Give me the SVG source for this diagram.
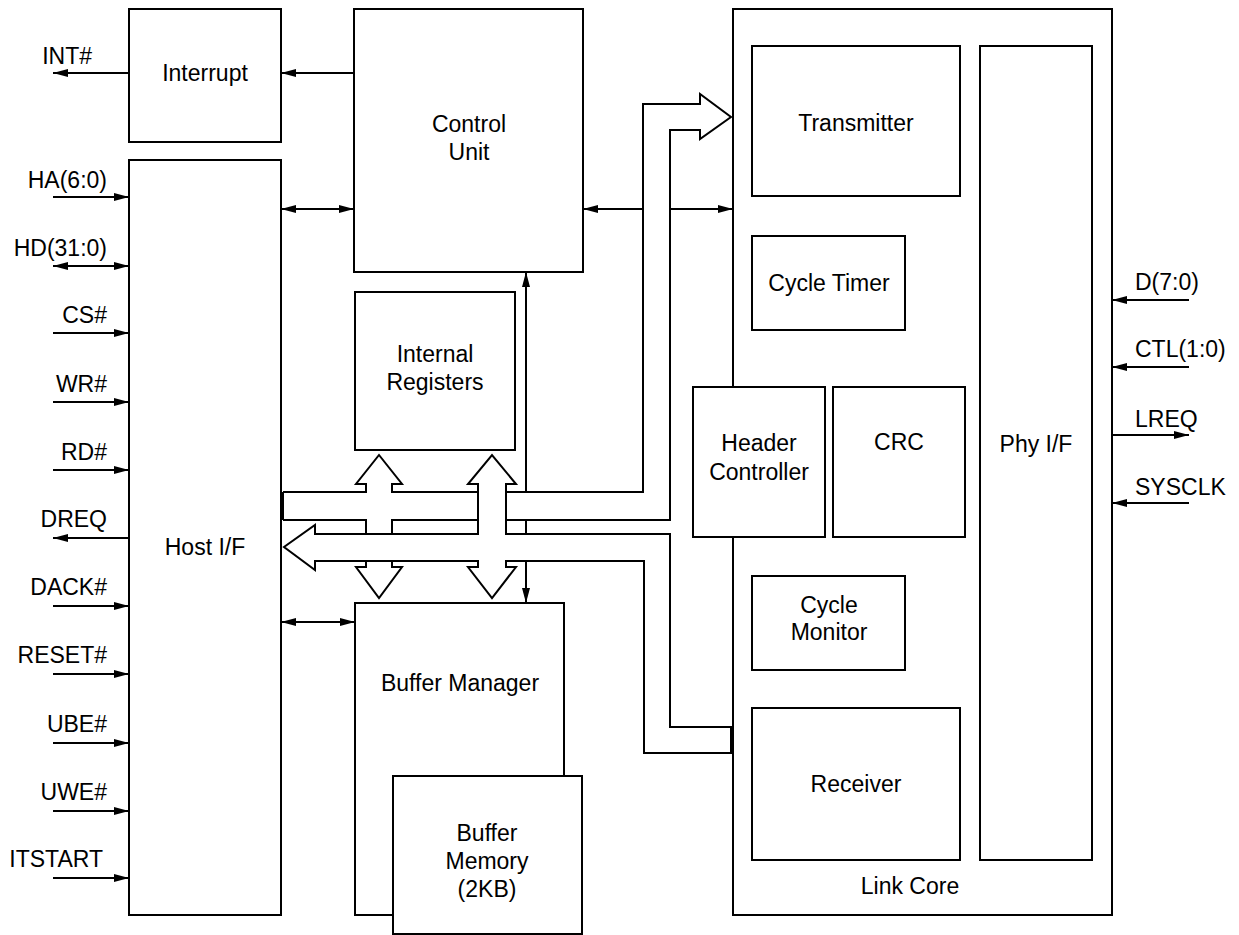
<svg xmlns="http://www.w3.org/2000/svg" width="1239" height="935" viewBox="0 0 1239 935">
<style>
.box{fill:#fff;stroke:#000;stroke-width:2}
.ln{fill:none;stroke:#000;stroke-width:2}
.bus{fill:none;stroke:#000;stroke-width:2;stroke-linejoin:miter}
.t{font-family:"Liberation Sans",Arial,sans-serif;font-size:23px;fill:#000;text-anchor:middle}
.l{font-family:"Liberation Sans",Arial,sans-serif;font-size:23px;fill:#000;text-anchor:end}
.r{font-family:"Liberation Sans",Arial,sans-serif;font-size:23px;fill:#000;text-anchor:start}
</style>
<defs>
<marker id="ah" viewBox="0 0 15 8" refX="15" refY="4" markerWidth="15" markerHeight="8" markerUnits="userSpaceOnUse" orient="auto-start-reverse">
<path d="M0,0 L15,4 L0,8 z" fill="#000"/>
</marker>
</defs>
<rect width="1239" height="935" fill="#fff"/>

<g id="link-core"><rect class="box" x="733" y="9" width="379" height="906"/><text class="t" x="910" y="894">Link Core</text></g>
<g id="transmitter"><rect class="box" x="752" y="46" width="208" height="150"/><text class="t" x="856" y="131">Transmitter</text></g>
<g id="cycle-timer"><rect class="box" x="752" y="236" width="153" height="94"/><text class="t" x="829" y="291">Cycle Timer</text></g>
<g id="phy-if"><rect class="box" x="980" y="46" width="112" height="814"/><text class="t" x="1036" y="452">Phy I/F</text></g>
<g id="header-controller"><rect class="box" x="693" y="387" width="132" height="150"/><text class="t"><tspan x="759" y="451">Header</tspan><tspan x="759" y="480">Controller</tspan></text></g>
<g id="crc"><rect class="box" x="833" y="387" width="132" height="150"/><text class="t" x="899" y="450">CRC</text></g>
<g id="cycle-monitor"><rect class="box" x="752" y="576" width="153" height="94"/><text class="t"><tspan x="829" y="613">Cycle</tspan><tspan x="829" y="640">Monitor</tspan></text></g>
<g id="receiver"><rect class="box" x="752" y="708" width="208" height="152"/><text class="t" x="856" y="792">Receiver</text></g>

<g id="interrupt"><rect class="box" x="129" y="9" width="152" height="133"/><text class="t" x="205" y="81">Interrupt</text></g>
<g id="host-if"><rect class="box" x="129" y="160" width="152" height="755"/><text class="t" x="205" y="555">Host I/F</text></g>
<g id="control-unit"><rect class="box" x="354" y="9" width="229" height="263"/><text class="t"><tspan x="469" y="132">Control</tspan><tspan x="469" y="160">Unit</tspan></text></g>
<g id="internal-registers"><rect class="box" x="355" y="292" width="160" height="158"/><text class="t"><tspan x="435" y="362">Internal</tspan><tspan x="435" y="390">Registers</tspan></text></g>
<g id="buffer-manager"><rect class="box" x="355" y="603" width="209" height="312"/><text class="t" x="460" y="691">Buffer Manager</text></g>
<g id="buffer-memory"><rect class="box" x="393" y="776" width="189" height="158"/><text class="t"><tspan x="487" y="841">Buffer</tspan><tspan x="487" y="869">Memory</tspan><tspan x="487" y="897">(2KB)</tspan></text></g>

<g id="connectors">
<line class="ln" x1="354" y1="73" x2="281" y2="73" marker-end="url(#ah)"/>
<line class="ln" x1="129" y1="73" x2="53" y2="73" marker-end="url(#ah)"/>
<line class="ln" x1="281" y1="209" x2="354" y2="209" marker-start="url(#ah)" marker-end="url(#ah)"/>
<line class="ln" x1="583" y1="209" x2="643" y2="209" marker-start="url(#ah)"/>
<line class="ln" x1="670" y1="209" x2="733" y2="209" marker-end="url(#ah)"/>
<line class="ln" x1="281" y1="622" x2="355" y2="622" marker-start="url(#ah)" marker-end="url(#ah)"/>
<line class="ln" x1="526" y1="492" x2="526" y2="272" marker-end="url(#ah)"/>
<line class="ln" x1="526" y1="520" x2="526" y2="534"/>
<line class="ln" x1="526" y1="561" x2="526" y2="603" marker-end="url(#ah)"/>

<line class="ln" x1="53" y1="197" x2="129" y2="197" marker-end="url(#ah)"/>
<line class="ln" x1="53" y1="266" x2="129" y2="266" marker-start="url(#ah)" marker-end="url(#ah)"/>
<line class="ln" x1="53" y1="333" x2="129" y2="333" marker-end="url(#ah)"/>
<line class="ln" x1="53" y1="402" x2="129" y2="402" marker-end="url(#ah)"/>
<line class="ln" x1="53" y1="470" x2="129" y2="470" marker-end="url(#ah)"/>
<line class="ln" x1="129" y1="538" x2="53" y2="538" marker-end="url(#ah)"/>
<line class="ln" x1="53" y1="606" x2="129" y2="606" marker-end="url(#ah)"/>
<line class="ln" x1="53" y1="674" x2="129" y2="674" marker-end="url(#ah)"/>
<line class="ln" x1="53" y1="743" x2="129" y2="743" marker-end="url(#ah)"/>
<line class="ln" x1="53" y1="811" x2="129" y2="811" marker-end="url(#ah)"/>
<line class="ln" x1="53" y1="878" x2="129" y2="878" marker-end="url(#ah)"/>

<line class="ln" x1="1189" y1="300" x2="1112" y2="300" marker-end="url(#ah)"/>
<line class="ln" x1="1189" y1="367" x2="1112" y2="367" marker-end="url(#ah)"/>
<line class="ln" x1="1112" y1="435" x2="1189" y2="435" marker-end="url(#ah)"/>
<line class="ln" x1="1189" y1="503" x2="1112" y2="503" marker-end="url(#ah)"/>

<path class="bus" d="M283,492 L283,520"/>
<path class="bus" d="M283,492 L366,492 L366,484 L356,484 L379,455 L402,484 L392,484 L392,492 L478,492"/>
<path class="bus" d="M283,520 L366,520 L366,534 M392,534 L392,520 L478,520"/>
<path class="bus" d="M315,534 L478,534 L478,484 L468,484 L492,455 L516,484 L506,484 L506,534 L670,534 L670,727 L731,727 L731,753 L644,753 L644,561 L506,561 L506,567 L516,567 L492,598 L468,567 L478,567 L478,561 L315,561 L315,570 L284,547 L315,525 Z"/>
<path class="bus" d="M366,561 L366,567 L356,567 L379,598 L402,567 L392,567 L392,561"/>
<path class="bus" d="M506,492 L643,492 L643,104 L700,104 L700,94 L731,117 L700,139 L700,130 L670,130 L670,520 L506,520"/>
</g>

<g id="labels">
<text class="l" x="92" y="64">INT#</text>
<text class="l" x="107" y="188">HA(6:0)</text>
<text class="l" x="107" y="256">HD(31:0)</text>
<text class="l" x="107" y="323">CS#</text>
<text class="l" x="107" y="392">WR#</text>
<text class="l" x="107" y="460">RD#</text>
<text class="l" x="107" y="527">DREQ</text>
<text class="l" x="107" y="595">DACK#</text>
<text class="l" x="107" y="663">RESET#</text>
<text class="l" x="107" y="732">UBE#</text>
<text class="l" x="107" y="800">UWE#</text>
<text class="l" x="103" y="867">ITSTART</text>
<text class="r" x="1135" y="290">D(7:0)</text>
<text class="r" x="1135" y="357">CTL(1:0)</text>
<text class="r" x="1135" y="427">LREQ</text>
<text class="r" x="1135" y="495">SYSCLK</text>
</g>
</svg>
